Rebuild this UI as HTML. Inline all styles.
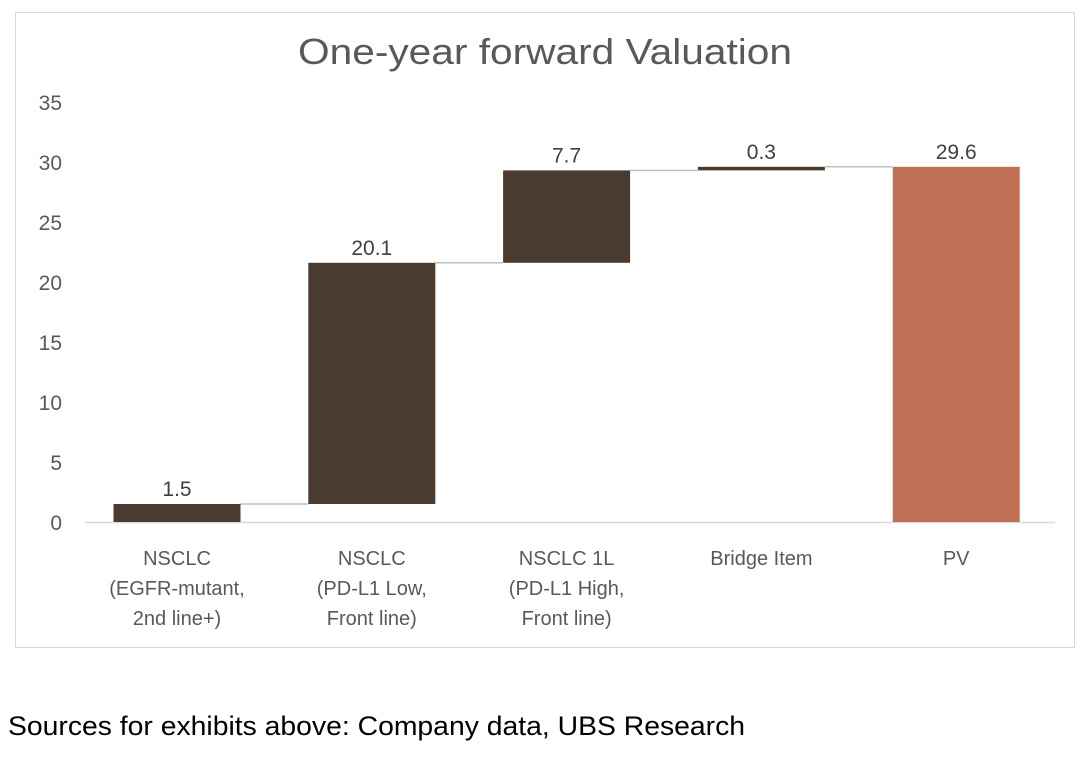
<!DOCTYPE html>
<html><head><meta charset="utf-8"><style>
body{margin:0;background:#fff;width:1080px;height:755px;overflow:hidden;font-family:"Liberation Sans",sans-serif}
</style></head><body>
<svg width="1080" height="755">
<rect x="15.5" y="12.5" width="1059" height="635" fill="#fff" stroke="#d9d9d9"/>
<text x="298" y="64" textLength="494" lengthAdjust="spacingAndGlyphs" font-size="36" fill="#595959">One-year forward Valuation</text>
<g id="axis"></g><g id="bars"></g>
<text x="8" y="735" textLength="737" lengthAdjust="spacingAndGlyphs" font-size="27" fill="#000">Sources for exhibits above: Company data, UBS Research</text>
</svg>
<script>
const categories=[["NSCLC","(EGFR-mutant,","2nd line+)"],["NSCLC","(PD-L1 Low,","Front line)"],["NSCLC  1L","(PD-L1 High,","Front line)"],["Bridge Item"],["PV"]];
const deltas=[1.5,20.1,7.7,0.3];
const total=29.6;
const labels=["1.5","20.1","7.7","0.3","29.6"];
const ticks=[0,5,10,15,20,25,30,35];
const NS="http://www.w3.org/2000/svg";
const y=v=>522-v*12;
const cx=i=>177+i*194.8;
const bw=127;
function mk(tag,attrs,parent){const e=document.createElementNS(NS,tag);for(const k in attrs)e.setAttribute(k,attrs[k]);parent.appendChild(e);return e;}
const ax=document.getElementById('axis'),bg=document.getElementById('bars');
ticks.forEach(t=>{const tx=mk('text',{x:62,y:y(t)+8,'text-anchor':'end','font-size':21,fill:'#595959'},ax);tx.textContent=t;

});
const axl=mk('line',{x1:85,x2:1055,y1:522.5,y2:522.5,stroke:'#d9d9d9','stroke-width':1.5},ax);


let cum=0;const tops=[];
deltas.forEach((d,i)=>{const b=cum,t=cum+d;cum=t;tops.push(t);
const r=mk('rect',{x:cx(i)-bw/2,y:y(t),width:bw,height:Math.max(y(b)-y(t),2),fill:'#4b3a2e'},bg);

});
const pr=mk('rect',{x:cx(4)-bw/2,y:y(total),width:bw,height:y(0)-y(total),fill:'#c07055'},bg);


const vals=[...tops,total];
for(let i=0;i<4;i++){const ln=mk('line',{x1:cx(i)+bw/2,x2:cx(i+1)-bw/2,y1:y(vals[i]),y2:y(vals[i]),stroke:'#bfbfbf','stroke-width':1.5},bg);

}
vals.forEach((v,i)=>{const t=mk('text',{x:cx(i),y:y(v)-8,'text-anchor':'middle','font-size':21,fill:'#404040'},bg);t.textContent=labels[i];

});
categories.forEach((c,i)=>c.forEach((s,j)=>{const t=mk('text',{x:cx(i),y:565+j*30,'text-anchor':'middle','font-size':20,fill:'#595959'},ax);t.textContent=s;

}));
</script>
</body></html>
